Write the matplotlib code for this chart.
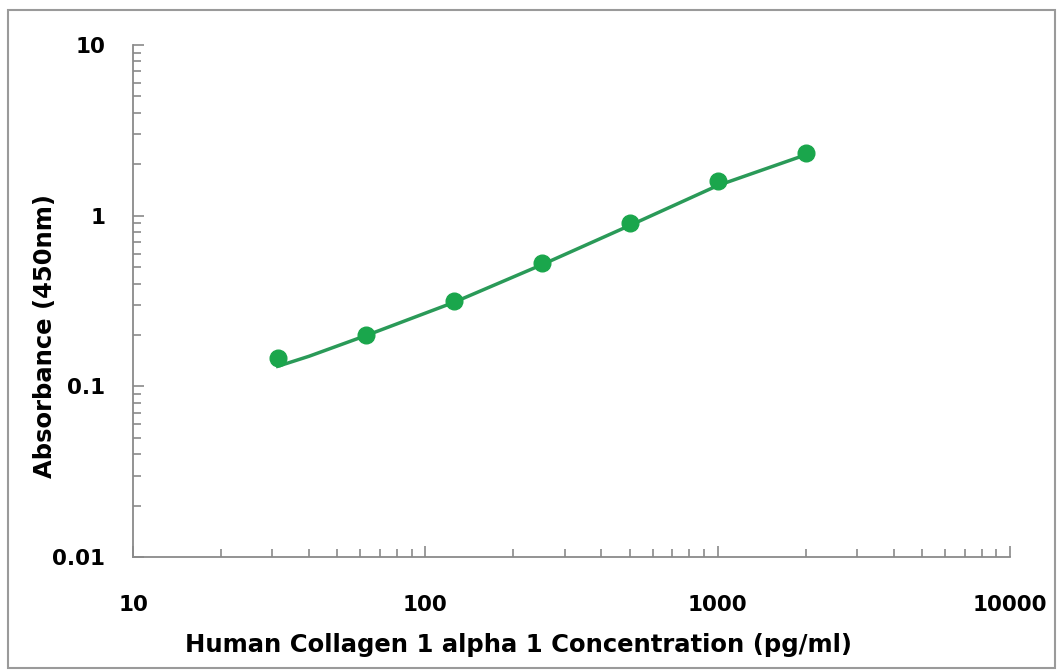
import matplotlib.pyplot as plt
from matplotlib.patches import Rectangle
from matplotlib.ticker import LogLocator, FixedLocator, NullFormatter

# standard concentrations and measured OD
conc = [31.25, 62.5, 125, 250, 500, 1000, 2000]
od = [0.146, 0.201, 0.318, 0.531, 0.91, 1.60, 2.33]

# fitted curve
fit_conc = [31.25, 40, 62.5, 125, 250, 500, 1000, 2000]
fit_od = [0.131, 0.150, 0.198, 0.310, 0.515, 0.875, 1.50, 2.27]

xticks = [10, 100, 1000, 10000]
xlabels = ['10', '100', '1000', '10000']
yticks = [0.01, 0.1, 1, 10]
ylabels = ['0.01', '0.1', '1', '10']

plt.rcParams['font.family'] = ['DejaVu Sans']
plt.rcParams['font.weight'] = 'bold'

fig = plt.figure(figsize=(10.59, 6.72), dpi=100)
ax = fig.add_axes([0.1256, 0.1711, 0.828, 0.762])

# outer frame like the Excel chart area
fig.patches.append(Rectangle((0.008, 0.006), 0.988, 0.979, transform=fig.transFigure,
                             fill=False, edgecolor='#9a9a9a', linewidth=1.5))

ax.plot(fit_conc, fit_od, color='#2a9a58', linewidth=2.5, zorder=2)
ax.plot(conc, od, 'o', color='#1aa64c', markersize=12, zorder=3)

ax.set_xscale('log')
ax.set_yscale('log')
ax.set_xlim(10, 10000)
ax.set_ylim(0.01, 10)

ax.xaxis.set_major_locator(FixedLocator(xticks))
ax.set_xticklabels(xlabels)
ax.yaxis.set_major_locator(FixedLocator(yticks))
ax.set_yticklabels(ylabels)
ax.xaxis.set_minor_locator(LogLocator(base=10, subs=range(2, 10)))
ax.yaxis.set_minor_locator(LogLocator(base=10, subs=range(2, 10)))
ax.xaxis.set_minor_formatter(NullFormatter())
ax.yaxis.set_minor_formatter(NullFormatter())

for s in ['top', 'right']:
    ax.spines[s].set_visible(False)
for s in ['left', 'bottom']:
    ax.spines[s].set_color('#8a8a8a')
    ax.spines[s].set_linewidth(1.3)

ax.tick_params(axis='both', which='both', direction='in', color='#8a8a8a', width=1.2)
ax.tick_params(axis='both', which='major', length=8)
ax.tick_params(axis='both', which='minor', length=6)
ax.tick_params(axis='x', which='major', pad=27, labelsize=15.5)
ax.tick_params(axis='y', which='major', pad=20, labelsize=15.5)

ax.set_xlabel('Human Collagen 1 alpha 1 Concentration (pg/ml)', fontsize=17.5,
              fontweight='bold', va='center')
ax.set_ylabel('Absorbance (450nm)', fontsize=17.5, fontweight='bold', va='center')
ax.xaxis.set_label_coords(0.44, -0.172)
ax.yaxis.set_label_coords(-0.100, 0.432)

plt.savefig('out.png', dpi=100)
